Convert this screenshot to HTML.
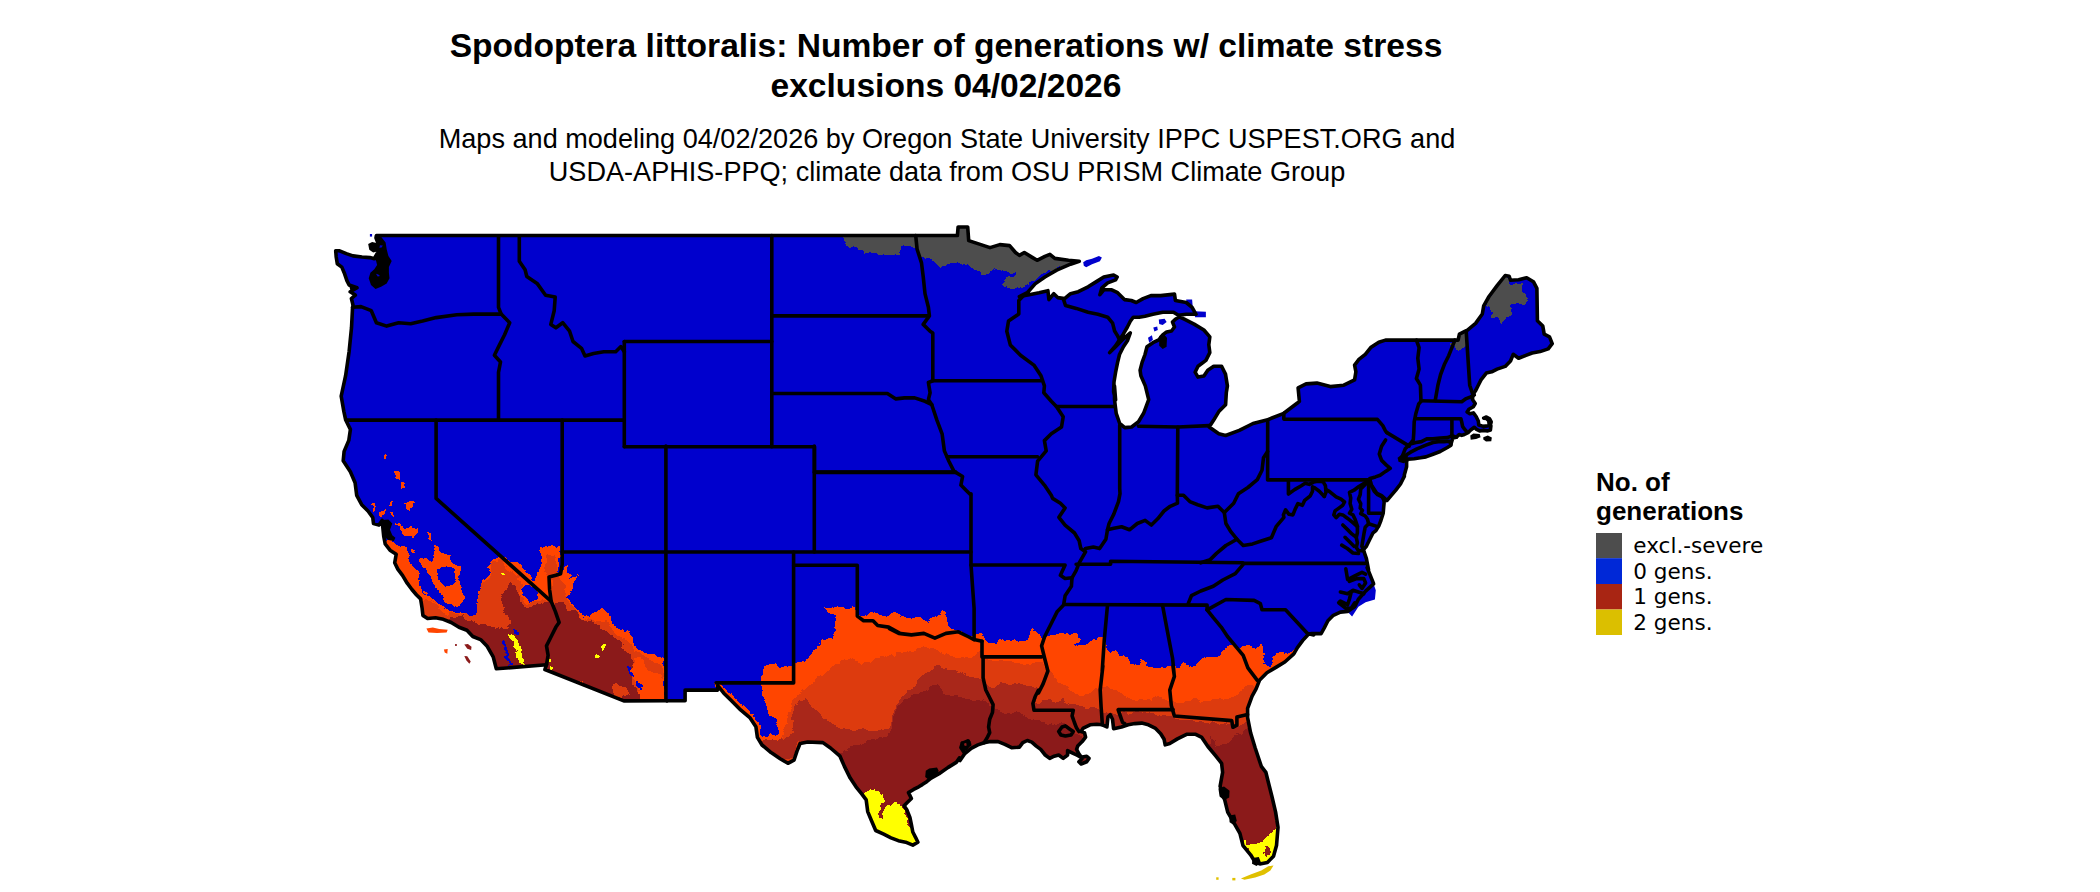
<!DOCTYPE html>
<html><head><meta charset="utf-8"><title>Spodoptera littoralis</title>
<style>html,body{margin:0;padding:0;background:#fff}svg{display:block}text{font-family:"Liberation Sans",sans-serif;fill:#000}.lg text{font-family:"DejaVu Sans","Liberation Sans",sans-serif;font-size:21.55px}</style></head><body>
<svg width="2100" height="892" viewBox="0 0 2100 892">
<rect width="2100" height="892" fill="#fff"/>
<defs><clipPath id="us"><path d="M376.4,235.5 L957.4,235.5 L958.1,227 L967.7,227 L968.7,240.6 L990,247.6 L999.8,244.6 L1009.6,245.6 L1015.5,252.5 L1019.4,255.4 L1024.3,252.5 L1032.2,257.4 L1037.1,260.3 L1044.9,256.4 L1049.9,254.4 L1054.8,258.4 L1068.5,260.3 L1079.3,261.3 L1070.5,264.2 L1056.7,270.1 L1044.9,277 L1035.1,283.9 L1027.3,292.7 L1019.4,296.6 L1029.2,294.7 L1039.1,292.7 L1047.9,290.7 L1048.9,299.6 L1053.8,293.7 L1057.7,297.6 L1064.6,298.6 L1070.5,293.7 L1078.3,291.7 L1088.1,286.8 L1096,281.9 L1103.8,277 L1113.6,275 L1117.2,277 L1115.6,279.9 L1107.7,282.9 L1101.9,287.8 L1099.9,294.7 L1103.8,289.8 L1111.7,289.8 L1117.6,292.7 L1124.4,299.6 L1131.3,300.5 L1136.2,302.5 L1143.1,298.6 L1150.9,295.6 L1160.7,295.6 L1174.5,294.1 L1175.4,300.5 L1186.2,302.5 L1192.1,307.4 L1196,314.3 L1186.2,314.3 L1178.4,315.3 L1173.5,312.3 L1162.7,312.3 L1152.9,314.3 L1145,316.2 L1139.1,317.2 L1133.2,317.2 L1130.3,321.2 L1127.4,327 L1123.4,333.9 L1119.5,339.8 L1115.6,345.7 L1109.7,352.6 L1115.6,346.7 L1123.4,338.8 L1130.3,332.9 L1127.4,340.8 L1123.4,346.7 L1119.5,354.5 L1117.6,362.4 L1115.6,372.2 L1114,382 L1113.6,391.8 L1115.6,400 L1114.5,385.9 L1114.5,399.6 L1116.2,413.3 L1119.7,423.5 L1124.8,427.6 L1131.6,427 L1138.5,421.8 L1143.6,413.3 L1148.7,399.6 L1145.3,385.9 L1140.9,375.7 L1140.1,370.2 L1142.1,362.4 L1145,354.5 L1147,346.7 L1152.9,342.7 L1158.8,339.8 L1162.7,334.9 L1166.6,331.9 L1171.5,331 L1174.5,327 L1172.5,322.1 L1175.4,319.2 L1179.4,316.8 L1184.3,319.2 L1194.1,324.1 L1203.9,330 L1209.8,336.9 L1208.8,344.7 L1209.8,352.6 L1205.9,360.4 L1198,366.3 L1195.1,372.2 L1198,377.1 L1203.9,376.1 L1207.8,370.2 L1213.7,366.3 L1221.6,366.3 L1225.5,374.1 L1227.4,385.9 L1226.3,392.8 L1225.6,404.7 L1218.8,411.6 L1213.7,420.1 L1209.2,427 L1218.8,433.8 L1225.6,435.5 L1239.3,430.4 L1253,423.5 L1266.7,420.1 L1283.8,413.3 L1297.4,403 L1299.4,401.4 L1298.1,387.9 L1306.1,383.9 L1316.9,383.1 L1330.3,386.6 L1343.8,385.2 L1354.6,379.9 L1355.9,371.8 L1354.6,365.1 L1358.6,359.7 L1365.3,354.3 L1370.7,347.6 L1378.8,342.2 L1385.5,340.1 L1458.1,340.1 L1459.4,334.1 L1464.8,331.4 L1467.5,330.1 L1475.6,323.4 L1482.3,314 L1483.7,305.9 L1489,296.5 L1497.1,285.7 L1505.2,275.5 L1509.2,276.3 L1510.5,280.3 L1518.6,279.8 L1526.7,277.7 L1533.4,281.7 L1536.9,288.4 L1537.4,320.7 L1542.8,326.1 L1544.2,334.1 L1549.5,336.8 L1552.2,343.6 L1548.2,348.9 L1540.1,351.6 L1532.1,353 L1525.3,355.7 L1518.6,358.3 L1513.2,354.3 L1510.5,361 L1505.2,366.4 L1497.1,369.1 L1491.7,371.8 L1486.3,373.1 L1481,379.9 L1478.3,385.2 L1475.6,390.6 L1472.9,394.7 L1472.5,399.5 L1475.2,403.5 L1473.4,406.7 L1468.9,409.3 L1467.1,412 L1469.8,413.8 L1473.4,412.9 L1476.1,416.5 L1478.3,421 L1478.8,425 L1483.3,426.4 L1487.8,425.9 L1490.4,425 L1491.2,421.9 L1489.6,418.8 L1486.4,417 L1483.7,418.1 L1486.4,418.5 L1488.7,420.6 L1489.1,423.7 L1490.9,425.9 L1490.4,430 L1487.8,430.9 L1483.3,430.4 L1479.7,430.9 L1476.1,429.1 L1474.3,427.3 L1470.7,430 L1468,432.7 L1464.4,434.5 L1461.7,435.4 L1459.1,434.5 L1456.4,437.2 L1452.8,437.9 L1451,443.9 L1451,445.2 L1447.4,447.5 L1440.2,451.5 L1433,454.2 L1425.9,456.9 L1420.5,457.8 L1414.2,458.7 L1407.9,459.1 L1406.6,461.4 L1406.6,466.7 L1404.3,475 L1404.4,476.1 L1400.5,484 L1395.8,490.2 L1391.1,495.7 L1387.1,500.4 L1384.3,500.8 L1383.7,507 L1383.2,513.2 L1380.9,520.5 L1378.7,526.1 L1375.9,530.6 L1373.1,532.8 L1369.7,539.5 L1366.4,546.3 L1363.5,549.6 L1364.1,551.9 L1366.4,558.6 L1368.6,570 L1367.1,567.5 L1373.4,583.2 L1373.6,583.9 L1365.6,591.1 L1358.4,599.2 L1354.8,606.4 L1347.6,611.4 L1340.4,612.1 L1333.3,615.3 L1327.9,620.7 L1324.3,627.9 L1321.1,633.6 L1311.7,633.6 L1308.2,634.5 L1302.8,640.4 L1297.4,647.6 L1293.8,653.9 L1284.8,662 L1275.9,667.4 L1266.9,672.7 L1259.7,679.9 L1256.1,688.9 L1252.1,696.2 L1247.6,708.4 L1247.6,717.6 L1250.6,732.8 L1255.2,748 L1261.3,766.3 L1265.9,772.4 L1267.4,778.5 L1272,796.8 L1275.6,812.1 L1278,827.3 L1276.5,845.6 L1273.5,856.3 L1267.4,862.4 L1259.8,863.9 L1255.2,862.4 L1250.6,854.8 L1243,845.6 L1239.9,833.4 L1233.8,822.7 L1227.7,812.1 L1224.7,799.9 L1220.1,786.2 L1222.6,772.4 L1221.6,763.3 L1215.5,755.7 L1207.9,746.5 L1201.8,737.4 L1195.7,734.3 L1186.6,734.3 L1177.4,738.9 L1169.8,743.5 L1165.2,744.9 L1164.1,739.3 L1160.7,733.7 L1155.1,728.1 L1148.4,724.8 L1141.7,723.1 L1134.9,723.6 L1128.2,724.8 L1121.5,727 L1113.6,728.7 L1112.5,719.2 L1110.3,714.7 L1108,716.9 L1106.9,727 L1102.4,724.8 L1096.8,724.2 L1090.1,724.8 L1083.3,728.1 L1081.1,731.5 L1084.5,732.6 L1085.6,737.1 L1082.2,741.6 L1077.7,746.1 L1076.6,749.4 L1078.9,753.9 L1082.2,758.4 L1078.9,761.8 L1081.1,764 L1086.7,761.8 L1089,758.4 L1086.7,756.2 L1081.1,757.3 L1076.6,755 L1072.1,752.8 L1067.6,750.6 L1067.6,755 L1063.2,758.4 L1058.7,755 L1054.2,756.2 L1049.7,758.4 L1045.2,755 L1040.7,749.4 L1036.3,746.1 L1031.8,742.1 L1027.3,740.5 L1022.8,742.7 L1019.4,747.2 L1011.6,747.7 L1004.9,744.4 L998.1,741.6 L990.3,741.6 L984.1,742.7 L977.9,744.9 L971.2,748.3 L964.5,753.9 L960,760.6 L959.5,757.7 L956.6,762.1 L947.8,767.6 L939.1,773.7 L931.1,778.1 L926.7,781.7 L922.3,784.6 L918.7,786.8 L913.6,789.4 L908.5,792.6 L911.4,798.5 L907,802.8 L904.1,805.8 L907,810.1 L909.9,817.4 L911.4,824.7 L912.8,832 L915.8,837.8 L917.9,842.2 L912.8,845.1 L905.6,842.2 L898.3,840.7 L891,837.8 L883.7,834.2 L875.7,830.5 L871.3,820.3 L867.7,811.6 L866.2,799.9 L861.9,794.1 L856,786.8 L850.2,778.1 L844.4,766.4 L840,756.2 L830.5,748 L822.9,742.6 L807.7,742 L800.1,743.5 L797,751.1 L794,760.2 L787.9,763.3 L780.2,758.7 L771.1,752.6 L762,745 L757.4,737.4 L755.9,726.7 L749.8,717.6 L740.6,709.9 L731.5,700.8 L723.8,693.2 L717.7,685.5 L717.7,690.1 L685.1,690.1 L685.1,700.8 L666.8,700.8 L623.8,700.9 L544.9,669.5 L546.5,664.7 L496.3,668.8 L493.2,656.9 L486.9,645.9 L480.6,639.6 L472.8,636.5 L466.9,630.3 L459,627.2 L451.2,622.5 L443.3,619.3 L435.5,617.8 L427.6,618.5 L422.9,615.4 L422.1,608.3 L420.6,598.9 L416.6,595 L411.9,589.5 L407.2,583.2 L402.5,575.4 L397.8,569.1 L394.7,562.8 L396.2,554.2 L390,550.2 L385.2,544 L383.7,536.1 L382.1,520.4 L379,525.1 L373.5,523.6 L372.7,517.3 L368,511 L361.7,504.7 L356.7,495.3 L355.1,482.8 L350.4,471.8 L343.2,460.8 L344.1,451.4 L348.8,440.4 L350.4,429.4 L345.7,420 L343.9,411.6 L341.2,396.2 L345.6,375.7 L349.1,351.8 L351.5,327.8 L352.5,308.6 L353,305.2 L351.4,298.5 L355.3,295.1 L350.2,291.8 L357,287.8 L349.1,285 L346.9,280.6 L344.6,273.8 L341.8,267.1 L337.3,263.7 L336.2,257 L335.7,250.8 L339.6,250.8 L346.3,253.6 L353,255.9 L362,257 L369.9,257.6 L374.3,258.7 L377.7,252.5 L378.8,248 L377.7,242.4 L376,237.9Z"/></clipPath></defs>
<path d="M376.4,235.5 L957.4,235.5 L958.1,227 L967.7,227 L968.7,240.6 L990,247.6 L999.8,244.6 L1009.6,245.6 L1015.5,252.5 L1019.4,255.4 L1024.3,252.5 L1032.2,257.4 L1037.1,260.3 L1044.9,256.4 L1049.9,254.4 L1054.8,258.4 L1068.5,260.3 L1079.3,261.3 L1070.5,264.2 L1056.7,270.1 L1044.9,277 L1035.1,283.9 L1027.3,292.7 L1019.4,296.6 L1029.2,294.7 L1039.1,292.7 L1047.9,290.7 L1048.9,299.6 L1053.8,293.7 L1057.7,297.6 L1064.6,298.6 L1070.5,293.7 L1078.3,291.7 L1088.1,286.8 L1096,281.9 L1103.8,277 L1113.6,275 L1117.2,277 L1115.6,279.9 L1107.7,282.9 L1101.9,287.8 L1099.9,294.7 L1103.8,289.8 L1111.7,289.8 L1117.6,292.7 L1124.4,299.6 L1131.3,300.5 L1136.2,302.5 L1143.1,298.6 L1150.9,295.6 L1160.7,295.6 L1174.5,294.1 L1175.4,300.5 L1186.2,302.5 L1192.1,307.4 L1196,314.3 L1186.2,314.3 L1178.4,315.3 L1173.5,312.3 L1162.7,312.3 L1152.9,314.3 L1145,316.2 L1139.1,317.2 L1133.2,317.2 L1130.3,321.2 L1127.4,327 L1123.4,333.9 L1119.5,339.8 L1115.6,345.7 L1109.7,352.6 L1115.6,346.7 L1123.4,338.8 L1130.3,332.9 L1127.4,340.8 L1123.4,346.7 L1119.5,354.5 L1117.6,362.4 L1115.6,372.2 L1114,382 L1113.6,391.8 L1115.6,400 L1114.5,385.9 L1114.5,399.6 L1116.2,413.3 L1119.7,423.5 L1124.8,427.6 L1131.6,427 L1138.5,421.8 L1143.6,413.3 L1148.7,399.6 L1145.3,385.9 L1140.9,375.7 L1140.1,370.2 L1142.1,362.4 L1145,354.5 L1147,346.7 L1152.9,342.7 L1158.8,339.8 L1162.7,334.9 L1166.6,331.9 L1171.5,331 L1174.5,327 L1172.5,322.1 L1175.4,319.2 L1179.4,316.8 L1184.3,319.2 L1194.1,324.1 L1203.9,330 L1209.8,336.9 L1208.8,344.7 L1209.8,352.6 L1205.9,360.4 L1198,366.3 L1195.1,372.2 L1198,377.1 L1203.9,376.1 L1207.8,370.2 L1213.7,366.3 L1221.6,366.3 L1225.5,374.1 L1227.4,385.9 L1226.3,392.8 L1225.6,404.7 L1218.8,411.6 L1213.7,420.1 L1209.2,427 L1218.8,433.8 L1225.6,435.5 L1239.3,430.4 L1253,423.5 L1266.7,420.1 L1283.8,413.3 L1297.4,403 L1299.4,401.4 L1298.1,387.9 L1306.1,383.9 L1316.9,383.1 L1330.3,386.6 L1343.8,385.2 L1354.6,379.9 L1355.9,371.8 L1354.6,365.1 L1358.6,359.7 L1365.3,354.3 L1370.7,347.6 L1378.8,342.2 L1385.5,340.1 L1458.1,340.1 L1459.4,334.1 L1464.8,331.4 L1467.5,330.1 L1475.6,323.4 L1482.3,314 L1483.7,305.9 L1489,296.5 L1497.1,285.7 L1505.2,275.5 L1509.2,276.3 L1510.5,280.3 L1518.6,279.8 L1526.7,277.7 L1533.4,281.7 L1536.9,288.4 L1537.4,320.7 L1542.8,326.1 L1544.2,334.1 L1549.5,336.8 L1552.2,343.6 L1548.2,348.9 L1540.1,351.6 L1532.1,353 L1525.3,355.7 L1518.6,358.3 L1513.2,354.3 L1510.5,361 L1505.2,366.4 L1497.1,369.1 L1491.7,371.8 L1486.3,373.1 L1481,379.9 L1478.3,385.2 L1475.6,390.6 L1472.9,394.7 L1472.5,399.5 L1475.2,403.5 L1473.4,406.7 L1468.9,409.3 L1467.1,412 L1469.8,413.8 L1473.4,412.9 L1476.1,416.5 L1478.3,421 L1478.8,425 L1483.3,426.4 L1487.8,425.9 L1490.4,425 L1491.2,421.9 L1489.6,418.8 L1486.4,417 L1483.7,418.1 L1486.4,418.5 L1488.7,420.6 L1489.1,423.7 L1490.9,425.9 L1490.4,430 L1487.8,430.9 L1483.3,430.4 L1479.7,430.9 L1476.1,429.1 L1474.3,427.3 L1470.7,430 L1468,432.7 L1464.4,434.5 L1461.7,435.4 L1459.1,434.5 L1456.4,437.2 L1452.8,437.9 L1451,443.9 L1451,445.2 L1447.4,447.5 L1440.2,451.5 L1433,454.2 L1425.9,456.9 L1420.5,457.8 L1414.2,458.7 L1407.9,459.1 L1406.6,461.4 L1406.6,466.7 L1404.3,475 L1404.4,476.1 L1400.5,484 L1395.8,490.2 L1391.1,495.7 L1387.1,500.4 L1384.3,500.8 L1383.7,507 L1383.2,513.2 L1380.9,520.5 L1378.7,526.1 L1375.9,530.6 L1373.1,532.8 L1369.7,539.5 L1366.4,546.3 L1363.5,549.6 L1364.1,551.9 L1366.4,558.6 L1368.6,570 L1367.1,567.5 L1373.4,583.2 L1373.6,583.9 L1365.6,591.1 L1358.4,599.2 L1354.8,606.4 L1347.6,611.4 L1340.4,612.1 L1333.3,615.3 L1327.9,620.7 L1324.3,627.9 L1321.1,633.6 L1311.7,633.6 L1308.2,634.5 L1302.8,640.4 L1297.4,647.6 L1293.8,653.9 L1284.8,662 L1275.9,667.4 L1266.9,672.7 L1259.7,679.9 L1256.1,688.9 L1252.1,696.2 L1247.6,708.4 L1247.6,717.6 L1250.6,732.8 L1255.2,748 L1261.3,766.3 L1265.9,772.4 L1267.4,778.5 L1272,796.8 L1275.6,812.1 L1278,827.3 L1276.5,845.6 L1273.5,856.3 L1267.4,862.4 L1259.8,863.9 L1255.2,862.4 L1250.6,854.8 L1243,845.6 L1239.9,833.4 L1233.8,822.7 L1227.7,812.1 L1224.7,799.9 L1220.1,786.2 L1222.6,772.4 L1221.6,763.3 L1215.5,755.7 L1207.9,746.5 L1201.8,737.4 L1195.7,734.3 L1186.6,734.3 L1177.4,738.9 L1169.8,743.5 L1165.2,744.9 L1164.1,739.3 L1160.7,733.7 L1155.1,728.1 L1148.4,724.8 L1141.7,723.1 L1134.9,723.6 L1128.2,724.8 L1121.5,727 L1113.6,728.7 L1112.5,719.2 L1110.3,714.7 L1108,716.9 L1106.9,727 L1102.4,724.8 L1096.8,724.2 L1090.1,724.8 L1083.3,728.1 L1081.1,731.5 L1084.5,732.6 L1085.6,737.1 L1082.2,741.6 L1077.7,746.1 L1076.6,749.4 L1078.9,753.9 L1082.2,758.4 L1078.9,761.8 L1081.1,764 L1086.7,761.8 L1089,758.4 L1086.7,756.2 L1081.1,757.3 L1076.6,755 L1072.1,752.8 L1067.6,750.6 L1067.6,755 L1063.2,758.4 L1058.7,755 L1054.2,756.2 L1049.7,758.4 L1045.2,755 L1040.7,749.4 L1036.3,746.1 L1031.8,742.1 L1027.3,740.5 L1022.8,742.7 L1019.4,747.2 L1011.6,747.7 L1004.9,744.4 L998.1,741.6 L990.3,741.6 L984.1,742.7 L977.9,744.9 L971.2,748.3 L964.5,753.9 L960,760.6 L959.5,757.7 L956.6,762.1 L947.8,767.6 L939.1,773.7 L931.1,778.1 L926.7,781.7 L922.3,784.6 L918.7,786.8 L913.6,789.4 L908.5,792.6 L911.4,798.5 L907,802.8 L904.1,805.8 L907,810.1 L909.9,817.4 L911.4,824.7 L912.8,832 L915.8,837.8 L917.9,842.2 L912.8,845.1 L905.6,842.2 L898.3,840.7 L891,837.8 L883.7,834.2 L875.7,830.5 L871.3,820.3 L867.7,811.6 L866.2,799.9 L861.9,794.1 L856,786.8 L850.2,778.1 L844.4,766.4 L840,756.2 L830.5,748 L822.9,742.6 L807.7,742 L800.1,743.5 L797,751.1 L794,760.2 L787.9,763.3 L780.2,758.7 L771.1,752.6 L762,745 L757.4,737.4 L755.9,726.7 L749.8,717.6 L740.6,709.9 L731.5,700.8 L723.8,693.2 L717.7,685.5 L717.7,690.1 L685.1,690.1 L685.1,700.8 L666.8,700.8 L623.8,700.9 L544.9,669.5 L546.5,664.7 L496.3,668.8 L493.2,656.9 L486.9,645.9 L480.6,639.6 L472.8,636.5 L466.9,630.3 L459,627.2 L451.2,622.5 L443.3,619.3 L435.5,617.8 L427.6,618.5 L422.9,615.4 L422.1,608.3 L420.6,598.9 L416.6,595 L411.9,589.5 L407.2,583.2 L402.5,575.4 L397.8,569.1 L394.7,562.8 L396.2,554.2 L390,550.2 L385.2,544 L383.7,536.1 L382.1,520.4 L379,525.1 L373.5,523.6 L372.7,517.3 L368,511 L361.7,504.7 L356.7,495.3 L355.1,482.8 L350.4,471.8 L343.2,460.8 L344.1,451.4 L348.8,440.4 L350.4,429.4 L345.7,420 L343.9,411.6 L341.2,396.2 L345.6,375.7 L349.1,351.8 L351.5,327.8 L352.5,308.6 L353,305.2 L351.4,298.5 L355.3,295.1 L350.2,291.8 L357,287.8 L349.1,285 L346.9,280.6 L344.6,273.8 L341.8,267.1 L337.3,263.7 L336.2,257 L335.7,250.8 L339.6,250.8 L346.3,253.6 L353,255.9 L362,257 L369.9,257.6 L374.3,258.7 L377.7,252.5 L378.8,248 L377.7,242.4 L376,237.9Z" fill="#0000CD"/>
<filter id="rough" color-interpolation-filters="sRGB" x="0" y="0" width="2100" height="892" filterUnits="userSpaceOnUse"><feTurbulence type="fractalNoise" baseFrequency="0.09" numOctaves="3" seed="7" result="n"/><feDisplacementMap in="SourceGraphic" in2="n" scale="9" xChannelSelector="R" yChannelSelector="G"/></filter>
<g clip-path="url(#us)"><g filter="url(#rough)" shape-rendering="crispEdges">
<path d="M761,738 L764.7,735.5 L779.5,734.3 L777,723.2 L769.6,713.3 L764.9,703.5 L762,694.6 L760.5,689.4 L761,686.2 L762.2,673.9 L764.7,668.9 L779.5,666.5 L784.4,670.2 L793,666.5 L796.7,661.5 L809.1,659.1 L811.5,651.7 L818.9,644.3 L831.3,639.3 L836.2,629.5 L833.7,617.1 L825.1,608.5 L835,607.3 L843.6,608.5 L852.2,607.3 L855.9,608.5 L857.2,614.7 L865.8,614.7 L873.2,613.4 L888,615.9 L897.9,614.7 L907.7,617.1 L917.6,617.1 L927.5,622.1 L934.9,617.1 L944.7,609.7 L947.2,617.1 L949.7,627 L957.1,630.7 L969.4,634.4 L976.8,634.4 L986.7,633.2 L980,632.9 L984.6,635.9 L989.1,642 L995.2,642.8 L999.8,638.2 L1005.9,639.7 L1010.5,639 L1016.6,642.8 L1022.7,641.2 L1027.2,635.9 L1030.3,628.3 L1033.3,627.5 L1037.1,632.9 L1041,639 L1045.5,637.4 L1051.6,636.7 L1059.2,634.4 L1068.4,632.9 L1077.5,634.4 L1080.6,637.4 L1077.5,642 L1073,646.6 L1080.6,644.3 L1088.2,642.8 L1094.3,639 L1100.4,636.7 L1103.4,640.5 L1106.5,648.1 L1111,652.7 L1117.1,651.1 L1120.2,655.7 L1126.3,657.2 L1130.9,658.8 L1133.9,664.9 L1138.5,663.3 L1143,661 L1147.6,664.1 L1153.7,667.9 L1162.9,667.9 L1170.5,667.1 L1178.1,667.9 L1184.2,663.3 L1190.3,666.4 L1196.4,666.4 L1196.4,660.3 L1204,658 L1213.1,655.7 L1219.2,655.7 L1223.8,651.1 L1229.9,646.6 L1233.7,644.3 L1239,648.1 L1245.1,646.6 L1252.8,648.1 L1258.9,646.6 L1261.9,645 L1263.4,652.7 L1266.5,658.8 L1265,663.3 L1269.5,666.4 L1272.6,660.3 L1271,655.7 L1277.1,654.2 L1281.7,649.6 L1284.8,654.2 L1290.9,652.7 L1295.4,648.9 L1300,648.9 L1400,900 L763,900 L763,745Z" fill="#FF4500"/>
<path d="M716.2,682.5 L722.3,684.6 L728.4,692.6 L737,699.9 L746.1,708.4 L755.2,717 L761.3,726.7 L762.9,737.4 L768,742 L762,748 L752.8,729.8 L740.6,714.5 L728.4,702.3 L716.2,691.6Z" fill="#FF4500"/>
<path d="M762,665.7 L774.1,665.1 L783.3,667.3 L792.4,665.7 L792.4,683.4 L762,683.4Z" fill="#FF4500"/>
<path d="M783.2,738 L786.9,723.2 L790.6,708.4 L793,698.5 L799.2,692.4 L806.6,687.4 L814,682.5 L821.4,676.3 L831.3,666.5 L843.6,661.5 L853.5,659.1 L870.7,664 L878.1,659.1 L892.9,654.1 L907.7,651.7 L922.5,648 L937.3,651.7 L949.7,656.6 L969.4,656.6 L980.5,651.7 L983,658.8 L995.2,661.8 L1010.5,663.3 L1025.7,663.3 L1041,660.3 L1047,671 L1053.1,677 L1059.2,681.6 L1065.3,684.7 L1071.4,692.3 L1080.6,695.3 L1089.7,693.8 L1098.9,687.7 L1105,686.2 L1114.1,690.8 L1123.2,695.3 L1132.4,699.9 L1147.6,699.9 L1159.8,696.9 L1169,701.4 L1178.1,703 L1193.3,699.9 L1208.6,701.4 L1223.8,698.4 L1239,695.3 L1245.1,686.2 L1244.5,685.5 L1253.7,685.5 L1400,900 L700,900 L760,790Z" fill="#DD3B0E"/>
<path d="M801.7,744.2 L793,728.1 L791.8,708.4 L804.1,698.5 L814,708.4 L823.9,718.3 L833.7,724.4 L843.6,728.1 L858.4,730.6 L873.2,729.4 L888,728.1 L892.9,718.3 L897.9,701 L912.7,688.7 L922.5,673.9 L937.3,666.5 L949.7,668.9 L962,673.9 L976.8,678.8 L984.6,681.6 L995.2,686.2 L1001.3,683.1 L1010.5,684.7 L1019.6,683.1 L1031.8,686.2 L1037.9,690.8 L1036.4,701.4 L1047,699.9 L1056.2,701.4 L1065.3,699.9 L1071.4,703 L1083.6,707.5 L1095.8,707.5 L1102.9,711.5 L1115.1,711.5 L1133.4,711.5 L1151.7,714.5 L1173,717.6 L1194.4,720.6 L1204.9,722.1 L1220.1,723.7 L1232.3,725.2 L1250.6,723.7 L1400,900 L700,900 L780,800Z" fill="#A9271A"/>
<path d="M762.8,740.7 L769.5,738.5 L778.5,740.7 L785.2,737.4 L795.3,732.9 L800.9,738.5 L798.7,743 L796.4,749.7 L792,758.7 L778.5,759.8 L767.3,750.8 L760.6,744.1Z" fill="#A9271A"/>
<path d="M838.7,752.8 L851,747.9 L868.3,740.5 L888,738 L892.9,723.2 L897.9,705.9 L907.7,698.5 L917.6,693.6 L927.5,688.7 L937.3,686.2 L944.7,693.6 L957.1,696.1 L969.4,698.5 L981.7,701 L990.1,708.4 L1005.4,711.5 L1020.6,714.5 L1035.9,720.6 L1051.1,723.7 L1063.3,723.7 L1072.4,729.8 L1078.5,735.9 L1084.6,748 L1090.7,763.3 L1102.9,763.3 L1133.4,763.3 L1163.9,751.1 L1179.1,745 L1194.4,742 L1209.6,745 L1211,734.3 L1215.5,748 L1226.2,742 L1238.4,734.3 L1247.6,729.8 L1253.7,731.3 L1400,900 L700,900 L820,820Z" fill="#8B1A1A"/>
<path d="M863.3,792.6 L869.1,789 L877.9,789.7 L883.7,792.6 L886.6,791.9 L883.7,798.5 L879.3,802.8 L880.1,817.4 L883,818.9 L883.7,808.7 L889.5,805.8 L893.9,802.1 L899.7,802.8 L904.1,808.7 L907,820.3 L911.4,830.5 L915.8,832 L918.7,843.6 L912.8,846.6 L904.1,843.6 L895.4,840.7 L883.7,835.6 L875,832 L870.6,820.3 L867,811.6 L865.5,799.9Z" fill="#FFFF00"/>
<path d="M1275.6,819.7 L1272,833.4 L1264.3,839.5 L1255.2,844.1 L1243,842 L1250.6,853.2 L1255.2,863.9 L1268.9,863.9 L1275,854.8 L1278,844.1 L1279.6,827.3Z" fill="#FFFF00"/>
<path d="M1264.3,847.1 L1268.3,847.1 L1267.4,856.3 L1263.4,854.8Z" fill="#8B1A1A"/>
<path d="M839.5,233.8 L848,245.8 L865.1,251.9 L882.2,254.3 L899.3,255.3 L902.7,244.1 L909.6,247.5 L915.7,249.2 L919.8,256 L933.5,261.2 L943.8,266.3 L957.4,261.2 L967.7,266.3 L981.4,273.1 L995,271.4 L1001.9,274.8 L1005.3,286.8 L1015.6,288.5 L1003.7,283.9 L1007.7,288.8 L1019.4,287.8 L1031.2,283.9 L1041,274.1 L1054.8,269.2 L1080.3,261.3 L1080.3,244.6 L990,236.8 L957.4,221.8 L839.5,221.8Z" fill="#4D4D4D"/>
<path d="M990,271.1 L999.8,272.1 L1007.7,274.1 L1015.5,273.1 L1014.5,276 L1008.6,277 L1004.7,281.9 L1001.8,283.9 L995.9,276 L990,274.1Z" fill="#0000CD"/>
<path d="M1505.2,275 L1509.2,283 L1518.6,284.4 L1524,283 L1521.3,291.1 L1528,299.2 L1524,303.2 L1515.9,303.2 L1510.5,304.6 L1513.2,314 L1505.2,318 L1502.5,323.4 L1497.1,318 L1491.7,316.7 L1490.4,309.9 L1486.3,307.2 L1489,296.5 L1497.1,285.7Z" fill="#4D4D4D"/>
<path d="M1451.4,343.6 L1459.4,332.8 L1466.2,331.4 L1466.2,347.6 L1462.1,349.7 L1456.8,347.6Z" fill="#4D4D4D"/>
<path d="M420.6,558.1 L426.1,556.5 L432.3,562.8 L433.9,553.4 L435.5,545.5 L438.6,547.1 L443.3,553.4 L451.2,555 L454.3,562.8 L460.6,564.4 L460.6,573.8 L459,581.6 L462.2,591.1 L464.5,597.3 L460.6,603.6 L452.8,605.2 L444.9,602.1 L440.2,594.2 L435.5,587.9 L433.9,581.6 L427.6,575.4 L422.9,567.5 L419.8,561.2Z" fill="#FF4500"/>
<path d="M435.5,569.1 L441.8,566.7 L448,567.5 L454.3,572.2 L455.1,578.5 L451.2,583.2 L444.9,584.8 L440.2,580.1 L437.1,575.4Z" fill="#0000CD"/>
<path d="M392.3,525.1 L397.8,523.6 L404.1,528.3 L408.8,525.1 L415.1,527.5 L416.6,533.8 L411.9,539.3 L407.2,535.3 L402.5,531.4 L396.2,527.5Z" fill="#FF4500"/>
<path d="M387.6,539.3 L394.7,540.8 L397.8,547.1 L404.1,548.7 L408.8,555 L407.2,559.7 L411.9,565.9 L416.6,573.8 L419.8,584.8 L422.9,592.6 L429.2,597.3 L435.5,600.5 L440.2,608.3 L437.1,609.9 L432.3,616.2 L427.6,619.3 L421.4,616.2 L419.8,600.5 L415.1,594.2 L405.7,581.6 L397,567.5 L394.7,562 L396.2,554.2 L389.2,550.2 L385.2,543.2Z" fill="#FF4500"/>
<path d="M423.7,599.7 L429.2,598.9 L435.5,602.1 L439.4,608.3 L436.3,610.7 L432.3,617 L427.6,619.3 L421.4,617 L420.6,603.6Z" fill="#DD3B0E"/>
<path d="M370.3,504.7 L374.3,505.3 L374.3,511 L371,511Z" fill="#FF4500"/>
<path d="M388.4,501.6 L391.5,502.2 L391.5,506.3 L389,506.3Z" fill="#FF4500"/>
<path d="M406.4,501.6 L412.7,502.2 L412.7,510.2 L407.1,510.2Z" fill="#FF4500"/>
<path d="M392.3,512.6 L395.4,513.2 L395.4,517.3 L392.9,517.3Z" fill="#FF4500"/>
<path d="M380.5,509.4 L385.2,510 L385.2,514.1 L381.2,514.1Z" fill="#FF4500"/>
<path d="M428.4,533.8 L430.8,534.4 L430.8,540 L429,540Z" fill="#FF4500"/>
<path d="M411.9,548.7 L417.4,549.3 L417.4,552.6 L412.6,552.6Z" fill="#FF4500"/>
<path d="M423.7,589.5 L426.9,590.1 L426.9,592.6 L424.3,592.6Z" fill="#FF4500"/>
<path d="M420,592.4 L428.5,598.8 L439.2,605.2 L451.9,613.7 L464.7,614.8 L475.4,605.2 L479.6,590.3 L483.9,579.6 L490.3,573.2 L488.1,566.8 L494.5,558.3 L503,556.2 L511.6,562.6 L520.1,562.6 L526.5,573.2 L535,581.8 L539.3,571.1 L541.4,549.8 L549.9,545.6 L558.4,547.7 L559.5,575.4 L566.9,564.7 L569.1,579.6 L577.6,575.4 L573.3,586 L566.9,598.8 L573.3,605.2 L581.8,613.7 L590.4,618 L601,607.3 L609.5,611.6 L611.7,622.2 L620.2,630.7 L632.9,637.1 L635.1,645.6 L645.7,652 L662.8,656.3 L663.8,681.8 L664.9,701 L624.4,703.1 L545.6,673.3 L494.5,671.2 L420,618Z" fill="#FF4500"/>
<path d="M522.2,588.1 L530.7,583.9 L536.1,590.3 L539.3,598.8 L530.7,603 L524.3,596.7Z" fill="#0000CD"/>
<path d="M556.3,586 L560.5,588.1 L561.6,596.7 L557.4,595.6Z" fill="#0000CD"/>
<path d="M477.5,600.9 L481.8,583.9 L490.3,577.5 L492.4,562.6 L500.9,560.5 L509.4,569 L518,575.4 L522.2,583.9 L520.1,594.5 L526.5,605.2 L539.3,600.9 L547.8,599.9 L552,583.9 L547.8,575.4 L543.5,562.6 L547.8,554.1 L556.3,556.2 L558.4,575.4 L564.8,583.9 L566.9,600.9 L581.8,615.8 L594.6,622.2 L605.3,620.1 L611.7,630.7 L624.4,639.3 L632.9,647.8 L643.6,656.3 L660.6,664.8 L662.8,681.8 L624.4,701 L545.6,672.3 L494.5,670.1 L420,615.8 L420,598.8 L432.8,603 L445.6,613.7 L462.6,615.8Z" fill="#DD3B0E"/>
<path d="M463.7,605.2 L475.4,604.1 L477.5,611.6 L471.1,614.8 L463.7,613.7 L454.1,610.5 L445.6,606.2 L454.1,605.2Z" fill="#0000CD"/>
<path d="M445.6,620.1 L451.9,618.4 L460.5,616.9 L475.4,624.3 L492.4,626.5 L505.2,630.7 L511.6,622.2 L505.2,611.6 L500.9,600.9 L505.2,590.3 L511.6,583.9 L518,592.4 L522.2,605.2 L530.7,609.4 L539.3,604.1 L547.8,600.5 L552,605.2 L560.5,603 L566.9,609.4 L577.6,612 L586.1,620.1 L596.7,624.8 L607.4,631.2 L620.2,641.8 L628.7,652.5 L632.9,666.9 L630.8,681.8 L637.2,690.4 L641.5,701 L624.4,702.1 L545.6,672.3 L494.5,670.1 L462.6,639.3Z" fill="#8B1A1A"/>
<path d="M611.7,686.1 L618,681.8 L624.4,688.2 L628.7,696.7 L620.2,698.9 L613.8,694.6Z" fill="#DD3B0E"/>
<path d="M632.9,656.3 L641.5,660.5 L650,669.1 L658.5,673.3 L662.8,681.8 L662.8,698.9 L650,698.9 L639.3,690.4 L632.9,677.6Z" fill="#FF4500"/>
<path d="M628.7,666.9 L632.9,669.1 L635.1,677.6 L630.8,675.5Z" fill="#0000CD"/>
<path d="M637.2,681.8 L641.5,684 L642.5,690.4 L638.3,688.2Z" fill="#0000CD"/>
<path d="M502,639.3 L505.2,642.4 L509.4,656.3 L511.6,664.8 L508.4,664.8 L505.2,652Z" fill="#0000CD"/>
<path d="M513.7,628.6 L518,630.7 L520.1,636.1 L515.8,635Z" fill="#0000CD"/>
<path d="M507.3,632.9 L513.7,635 L520.1,645.6 L522.6,658.4 L523.9,664.8 L518.4,663.1 L515.8,652 L511.6,641.4Z" fill="#FFFF00"/>
<path d="M501.6,570.5 L503.7,570.5 L504.1,575.8 L502,575.8Z" fill="#FFFF00"/>
<path d="M595,654.6 L598.9,654.6 L598.9,658.4 L595,658.4Z" fill="#FFFF00"/>
<path d="M602.1,645.6 L605.7,645.6 L604.2,648.8 L602.1,648.4Z" fill="#FFFF00"/>
<path d="M546.7,658 L550.3,658 L550.3,662.2 L547.3,662.2Z" fill="#FFFF00"/>
<path d="M548.4,666.1 L551.6,666.1 L550.3,669.1 L548.4,669.1Z" fill="#FFFF00"/>
<path d="M384.9,455.1 L388,455.1 L388,459.5 L384.9,459.5Z" fill="#FF4500"/>
<path d="M395.3,471.8 L399.7,471.8 L399.7,481.2 L395.3,481.2Z" fill="#FF4500"/>
<path d="M401.5,481.2 L404.7,481.2 L404.7,486.8 L401.5,486.8Z" fill="#FF4500"/>
</g></g>
<path d="M426.4,628.6 L432.8,627.5 L439.2,629 L447.7,629.7 L446.6,632.4 L437,632.9 L428.5,632.4Z" fill="#FF4500"/>
<path d="M464.3,644.6 L467.9,643.9 L471.5,646.7 L471.1,649.9 L467.3,648.8Z" fill="#8B1A1A"/>
<path d="M464.3,655.9 L467.3,656.3 L470.7,661.6 L469.4,663.7 L466.4,660.5Z" fill="#8B1A1A"/>
<path d="M443.9,649.5 L447.7,649 L447.3,653.7 L444.7,652.5Z" fill="#FF4500"/>
<path d="M455.1,644.1 L456.8,644.1 L456.8,645.9 L455.1,645.9Z" fill="#8B1A1A"/>
<path d="M1083.2,262.3 L1086.2,260.3 L1092,258.8 L1098.9,256 L1101.9,257.4 L1099.9,261.3 L1092,264.2 L1086.2,267.2 L1083.8,265.8Z" fill="#0000CD"/>
<path d="M1158.8,319.6 L1164.6,318.8 L1166.6,322.1 L1162.7,325.1 L1159.2,324.1Z" fill="#0000CD"/>
<path d="M1153.3,327.4 L1157.2,326.6 L1157.8,330 L1154.4,331.4Z" fill="#0000CD"/>
<path d="M1148,337.8 L1151.9,335.3 L1152.9,339.8 L1149.3,342.7Z" fill="#0000CD"/>
<path d="M1186.2,299.6 L1192.1,299.6 L1193.1,311.3 L1187.2,310.4Z" fill="#0000CD"/>
<path d="M1194.1,311.3 L1205.9,311.7 L1205.9,317.2 L1195.1,317.2Z" fill="#0000CD"/>
<path d="M1273.5,865.4 L1270.4,870.6 L1264.3,874.6 L1255.2,877.6 L1244.5,879.8 L1240.9,878.5 L1250.6,874.6 L1261.3,870.6 L1268.3,866.3Z" fill="#E0C000"/>
<path d="M1232.3,877.9 L1235.4,877.9 L1235.4,880.4 L1232.3,880.4Z" fill="#E0C000"/>
<path d="M1216.2,877.3 L1218.6,877.3 L1218.6,879.8 L1216.2,879.8Z" fill="#E0C000"/>
<path d="M1373.6,583.9 L1375.8,590.2 L1374.9,599.6 L1365.6,602.2 L1358.4,606.7 L1352.1,616.6 L1347.6,611.7 L1354.8,606.4 L1358.4,599.2 L1365.6,591.1Z" fill="#0000CD"/>
<g fill="none" stroke="#000" stroke-width="3.6" stroke-linejoin="round" stroke-linecap="round">
<path d="M376.4,235.5 L957.4,235.5 L958.1,227 L967.7,227 L968.7,240.6 L990,247.6 L999.8,244.6 L1009.6,245.6 L1015.5,252.5 L1019.4,255.4 L1024.3,252.5 L1032.2,257.4 L1037.1,260.3 L1044.9,256.4 L1049.9,254.4 L1054.8,258.4 L1068.5,260.3 L1079.3,261.3 L1070.5,264.2 L1056.7,270.1 L1044.9,277 L1035.1,283.9 L1027.3,292.7 L1019.4,296.6 L1029.2,294.7 L1039.1,292.7 L1047.9,290.7 L1048.9,299.6 L1053.8,293.7 L1057.7,297.6 L1064.6,298.6 L1070.5,293.7 L1078.3,291.7 L1088.1,286.8 L1096,281.9 L1103.8,277 L1113.6,275 L1117.2,277 L1115.6,279.9 L1107.7,282.9 L1101.9,287.8 L1099.9,294.7 L1103.8,289.8 L1111.7,289.8 L1117.6,292.7 L1124.4,299.6 L1131.3,300.5 L1136.2,302.5 L1143.1,298.6 L1150.9,295.6 L1160.7,295.6 L1174.5,294.1 L1175.4,300.5 L1186.2,302.5 L1192.1,307.4 L1196,314.3 L1186.2,314.3 L1178.4,315.3 L1173.5,312.3 L1162.7,312.3 L1152.9,314.3 L1145,316.2 L1139.1,317.2 L1133.2,317.2 L1130.3,321.2 L1127.4,327 L1123.4,333.9 L1119.5,339.8 L1115.6,345.7 L1109.7,352.6 L1115.6,346.7 L1123.4,338.8 L1130.3,332.9 L1127.4,340.8 L1123.4,346.7 L1119.5,354.5 L1117.6,362.4 L1115.6,372.2 L1114,382 L1113.6,391.8 L1115.6,400 L1114.5,385.9 L1114.5,399.6 L1116.2,413.3 L1119.7,423.5 L1124.8,427.6 L1131.6,427 L1138.5,421.8 L1143.6,413.3 L1148.7,399.6 L1145.3,385.9 L1140.9,375.7 L1140.1,370.2 L1142.1,362.4 L1145,354.5 L1147,346.7 L1152.9,342.7 L1158.8,339.8 L1162.7,334.9 L1166.6,331.9 L1171.5,331 L1174.5,327 L1172.5,322.1 L1175.4,319.2 L1179.4,316.8 L1184.3,319.2 L1194.1,324.1 L1203.9,330 L1209.8,336.9 L1208.8,344.7 L1209.8,352.6 L1205.9,360.4 L1198,366.3 L1195.1,372.2 L1198,377.1 L1203.9,376.1 L1207.8,370.2 L1213.7,366.3 L1221.6,366.3 L1225.5,374.1 L1227.4,385.9 L1226.3,392.8 L1225.6,404.7 L1218.8,411.6 L1213.7,420.1 L1209.2,427 L1218.8,433.8 L1225.6,435.5 L1239.3,430.4 L1253,423.5 L1266.7,420.1 L1283.8,413.3 L1297.4,403 L1299.4,401.4 L1298.1,387.9 L1306.1,383.9 L1316.9,383.1 L1330.3,386.6 L1343.8,385.2 L1354.6,379.9 L1355.9,371.8 L1354.6,365.1 L1358.6,359.7 L1365.3,354.3 L1370.7,347.6 L1378.8,342.2 L1385.5,340.1 L1458.1,340.1 L1459.4,334.1 L1464.8,331.4 L1467.5,330.1 L1475.6,323.4 L1482.3,314 L1483.7,305.9 L1489,296.5 L1497.1,285.7 L1505.2,275.5 L1509.2,276.3 L1510.5,280.3 L1518.6,279.8 L1526.7,277.7 L1533.4,281.7 L1536.9,288.4 L1537.4,320.7 L1542.8,326.1 L1544.2,334.1 L1549.5,336.8 L1552.2,343.6 L1548.2,348.9 L1540.1,351.6 L1532.1,353 L1525.3,355.7 L1518.6,358.3 L1513.2,354.3 L1510.5,361 L1505.2,366.4 L1497.1,369.1 L1491.7,371.8 L1486.3,373.1 L1481,379.9 L1478.3,385.2 L1475.6,390.6 L1472.9,394.7 L1472.5,399.5 L1475.2,403.5 L1473.4,406.7 L1468.9,409.3 L1467.1,412 L1469.8,413.8 L1473.4,412.9 L1476.1,416.5 L1478.3,421 L1478.8,425 L1483.3,426.4 L1487.8,425.9 L1490.4,425 L1491.2,421.9 L1489.6,418.8 L1486.4,417 L1483.7,418.1 L1486.4,418.5 L1488.7,420.6 L1489.1,423.7 L1490.9,425.9 L1490.4,430 L1487.8,430.9 L1483.3,430.4 L1479.7,430.9 L1476.1,429.1 L1474.3,427.3 L1470.7,430 L1468,432.7 L1464.4,434.5 L1461.7,435.4 L1459.1,434.5 L1456.4,437.2 L1452.8,437.9 L1451,443.9 L1451,445.2 L1447.4,447.5 L1440.2,451.5 L1433,454.2 L1425.9,456.9 L1420.5,457.8 L1414.2,458.7 L1407.9,459.1 L1406.6,461.4 L1406.6,466.7 L1404.3,475 L1404.4,476.1 L1400.5,484 L1395.8,490.2 L1391.1,495.7 L1387.1,500.4 L1384.3,500.8 L1383.7,507 L1383.2,513.2 L1380.9,520.5 L1378.7,526.1 L1375.9,530.6 L1373.1,532.8 L1369.7,539.5 L1366.4,546.3 L1363.5,549.6 L1364.1,551.9 L1366.4,558.6 L1368.6,570 L1367.1,567.5 L1373.4,583.2 L1373.6,583.9 L1365.6,591.1 L1358.4,599.2 L1354.8,606.4 L1347.6,611.4 L1340.4,612.1 L1333.3,615.3 L1327.9,620.7 L1324.3,627.9 L1321.1,633.6 L1311.7,633.6 L1308.2,634.5 L1302.8,640.4 L1297.4,647.6 L1293.8,653.9 L1284.8,662 L1275.9,667.4 L1266.9,672.7 L1259.7,679.9 L1256.1,688.9 L1252.1,696.2 L1247.6,708.4 L1247.6,717.6 L1250.6,732.8 L1255.2,748 L1261.3,766.3 L1265.9,772.4 L1267.4,778.5 L1272,796.8 L1275.6,812.1 L1278,827.3 L1276.5,845.6 L1273.5,856.3 L1267.4,862.4 L1259.8,863.9 L1255.2,862.4 L1250.6,854.8 L1243,845.6 L1239.9,833.4 L1233.8,822.7 L1227.7,812.1 L1224.7,799.9 L1220.1,786.2 L1222.6,772.4 L1221.6,763.3 L1215.5,755.7 L1207.9,746.5 L1201.8,737.4 L1195.7,734.3 L1186.6,734.3 L1177.4,738.9 L1169.8,743.5 L1165.2,744.9 L1164.1,739.3 L1160.7,733.7 L1155.1,728.1 L1148.4,724.8 L1141.7,723.1 L1134.9,723.6 L1128.2,724.8 L1121.5,727 L1113.6,728.7 L1112.5,719.2 L1110.3,714.7 L1108,716.9 L1106.9,727 L1102.4,724.8 L1096.8,724.2 L1090.1,724.8 L1083.3,728.1 L1081.1,731.5 L1084.5,732.6 L1085.6,737.1 L1082.2,741.6 L1077.7,746.1 L1076.6,749.4 L1078.9,753.9 L1082.2,758.4 L1078.9,761.8 L1081.1,764 L1086.7,761.8 L1089,758.4 L1086.7,756.2 L1081.1,757.3 L1076.6,755 L1072.1,752.8 L1067.6,750.6 L1067.6,755 L1063.2,758.4 L1058.7,755 L1054.2,756.2 L1049.7,758.4 L1045.2,755 L1040.7,749.4 L1036.3,746.1 L1031.8,742.1 L1027.3,740.5 L1022.8,742.7 L1019.4,747.2 L1011.6,747.7 L1004.9,744.4 L998.1,741.6 L990.3,741.6 L984.1,742.7 L977.9,744.9 L971.2,748.3 L964.5,753.9 L960,760.6 L959.5,757.7 L956.6,762.1 L947.8,767.6 L939.1,773.7 L931.1,778.1 L926.7,781.7 L922.3,784.6 L918.7,786.8 L913.6,789.4 L908.5,792.6 L911.4,798.5 L907,802.8 L904.1,805.8 L907,810.1 L909.9,817.4 L911.4,824.7 L912.8,832 L915.8,837.8 L917.9,842.2 L912.8,845.1 L905.6,842.2 L898.3,840.7 L891,837.8 L883.7,834.2 L875.7,830.5 L871.3,820.3 L867.7,811.6 L866.2,799.9 L861.9,794.1 L856,786.8 L850.2,778.1 L844.4,766.4 L840,756.2 L830.5,748 L822.9,742.6 L807.7,742 L800.1,743.5 L797,751.1 L794,760.2 L787.9,763.3 L780.2,758.7 L771.1,752.6 L762,745 L757.4,737.4 L755.9,726.7 L749.8,717.6 L740.6,709.9 L731.5,700.8 L723.8,693.2 L717.7,685.5 L717.7,690.1 L685.1,690.1 L685.1,700.8 L666.8,700.8 L623.8,700.9 L544.9,669.5 L546.5,664.7 L496.3,668.8 L493.2,656.9 L486.9,645.9 L480.6,639.6 L472.8,636.5 L466.9,630.3 L459,627.2 L451.2,622.5 L443.3,619.3 L435.5,617.8 L427.6,618.5 L422.9,615.4 L422.1,608.3 L420.6,598.9 L416.6,595 L411.9,589.5 L407.2,583.2 L402.5,575.4 L397.8,569.1 L394.7,562.8 L396.2,554.2 L390,550.2 L385.2,544 L383.7,536.1 L382.1,520.4 L379,525.1 L373.5,523.6 L372.7,517.3 L368,511 L361.7,504.7 L356.7,495.3 L355.1,482.8 L350.4,471.8 L343.2,460.8 L344.1,451.4 L348.8,440.4 L350.4,429.4 L345.7,420 L343.9,411.6 L341.2,396.2 L345.6,375.7 L349.1,351.8 L351.5,327.8 L352.5,308.6 L353,305.2 L351.4,298.5 L355.3,295.1 L350.2,291.8 L357,287.8 L349.1,285 L346.9,280.6 L344.6,273.8 L341.8,267.1 L337.3,263.7 L336.2,257 L335.7,250.8 L339.6,250.8 L346.3,253.6 L353,255.9 L362,257 L369.9,257.6 L374.3,258.7 L377.7,252.5 L378.8,248 L377.7,242.4 L376,237.9Z"/>
<path d="M1401.7,457.8 L1410.2,452.4 L1416.9,448.8 L1425.9,445.2 L1433,442.5 L1438.4,441.6 L1443.8,441.6 L1449.2,441.2 L1451,443.9"/>
<path d="M498.5,236.2 L498.5,307.3 L501.2,314.1 L509.7,322.7 L504.6,334.7 L499.5,344.9 L494.4,355.2 L500.5,362 L498.5,372.3 L498.5,420.1"/>
<path d="M352.5,307.3 L361,306.6 L371.3,310.7 L376.4,322.7 L386.7,326.1 L398.6,322.7 L410.6,323.7 L422.6,321 L436.2,317.6 L456.8,314.8 L473.8,314.1 L501.2,314.1"/>
<path d="M519.3,236.2 L519.3,261.2 L525.1,269.7 L526.8,276.5 L537.1,283.4 L545.6,295.3 L555.2,297.1 L554.2,310.7 L550.8,324.4 L555.9,327.8 L562.7,322.7 L569.6,331.2 L573,341.5 L581.5,348.3 L585,355.9 L593.5,353.5 L603.8,351.8 L615.7,351.8 L620.9,346.6 L624.3,351.8"/>
<path d="M346.7,420.1 L624.3,420.1"/>
<path d="M624.3,341.5 L624.3,446.8"/>
<path d="M624.3,341.5 L771.8,341.5"/>
<path d="M771.8,235.5 L771.8,446.8"/>
<path d="M624.3,446.8 L814.5,446.8 L814.5,472.1 L955.7,472.1"/>
<path d="M771.8,315.9 L928.4,315.9"/>
<path d="M771.8,393.5 L887.4,393.5 L895.9,398.9 L904.4,397.9 L914.7,397.9 L925,401.3 L931.8,404.7"/>
<path d="M915.7,235.5 L917.1,249.2 L921.5,262.9 L923.2,276.5 L925,293.6 L928.4,307.3 L929.4,315.9 L923.2,324.4 L930.1,331.2 L932.8,332.9 L932.8,380.8 L928.4,382.5 L930.1,392.8 L928.4,399.6 L931.8,404.7 L936.9,420.1 L942.1,433.8 L944.4,450.9 L948.9,461.2 L954,471.4 L962.6,476.5 L960.9,485.1 L966,490.2 L971.1,495.3 L971,493.7 L971,565 L974.1,608.3 L974.1,639.6 L982,641.2"/>
<path d="M932.8,380.8 L1041,380.8"/>
<path d="M947.2,456.7 L1037.6,456.7"/>
<path d="M436.1,420 L436.1,498.4 L551.2,601.4"/>
<path d="M562.2,420 L562.2,564.3 L560.6,573.7 L555.9,575.3 L549,576.9 L549.6,589.4 L551.2,601.4 L555.3,611.4 L559.1,622.4 L555.9,627.1 L551.2,636.5 L546.5,645.9 L548.1,655.3 L546.5,664.7"/>
<path d="M562.2,552 L971,552"/>
<path d="M665.9,446 L665.9,699.9 L666.8,700.9"/>
<path d="M814.3,446 L814.3,552"/>
<path d="M814.3,472.4 L955.3,472.4"/>
<path d="M793.6,552 L793.6,682.9 L716.1,682.9"/>
<path d="M793.6,565.3 L857.3,565.3 L857.3,616.1 L863.6,620.8 L873,620.8 L877.7,625.5 L888.7,627.1 L900,633.4 L889.4,628.7 L898.8,633.4 L911.4,634.9 L923.9,633.4 L934.9,638.1 L945.9,633.4 L958.4,631.8 L967.9,636.5 L974.1,639.6"/>
<path d="M982,641.2 L982,656.9 L1041.6,656.9"/>
<path d="M983.1,656.6 L983.1,677.9 L985.8,690 L989.2,696.7 L993.1,704.6 L992.5,712.4 L989.7,719.2 L988.6,727 L989.7,732.6 L986.9,738.2 L984.1,742.7"/>
<path d="M971,565 L1065.1,565 L1060.4,575.3 L1065.1,578.5 L1072,577.8"/>
<path d="M1023.9,295.3 L1018.8,300.5 L1018.8,314.1 L1008.5,321 L1006.8,331.2 L1010.3,344.9 L1020.5,355.2 L1034.2,365.4 L1041,375.7 L1044.4,385.9 L1043.8,392.8 L1051.3,401.3 L1056.4,406.5 L1063.2,416.7 L1061.5,427 L1051.3,433.8 L1044.4,440.6 L1046.2,450.9 L1037.6,461.2 L1035.9,474.8 L1044.4,485.1 L1051.3,495.3 L1052.6,498.4 L1060.4,503.2 L1065.1,507.9 L1058.9,517.3 L1065.1,525.1 L1074.5,533 L1079.2,540.8 L1080.8,548.6 L1085.5,551.8 L1079.2,562.8 L1076.1,570.6 L1072,577.8 L1071.4,586.3 L1065.1,595.7 L1063.6,605.1 L1057.3,611.4 L1051,624 L1044.7,636.5 L1041.6,645.9 L1044.7,658.5 L1047.9,671 L1043.2,683.6 L1038.5,693 L1038.5,690 L1035.1,696.7 L1032.9,703.5 L1034,710.2 L1073.3,710.2 L1072.1,715.8 L1074.4,722.5 L1076.6,728.1 L1078.9,731.5"/>
<path d="M1056.4,406.5 L1114.5,406.5"/>
<path d="M1119.7,425.3 L1119.7,488.5 L1120,493.7 L1118.5,501.6 L1113.8,514.1 L1109.1,523.5 L1107.5,529.8"/>
<path d="M1085.5,548.6 L1093.4,547.1 L1099.6,548.6 L1105.9,539.2 L1107.5,529.8 L1113.8,528.3 L1121.6,526.7 L1129.5,529.8 L1137.3,523.5 L1145.1,520.4 L1151.4,525.1 L1157.7,518.8 L1164,511 L1170.2,506.3 L1177.5,503.2 L1177.3,495.3 L1183.5,495.3 L1189.8,501.6 L1197.7,504.7 L1207.1,507.9 L1218,506.3 L1224.3,512.6 L1233.7,503.2 L1238.4,493.7 L1247.9,487.5 L1257.3,479.6 L1262,470.2 L1263.5,457.7 L1267.6,451.4"/>
<path d="M1138.5,426.3 L1177.8,427 L1209.2,425.6"/>
<path d="M1177.8,427 L1177.3,495.3"/>
<path d="M1267.7,420.1 L1267.6,479.9 L1368.7,479.9"/>
<path d="M1283.8,413.3 L1283.8,419.1 L1377.4,419.4 L1382.8,425.6 L1385.5,431 L1386.9,432.6"/>
<path d="M1386.9,432.6 L1409.3,446.1"/>
<path d="M1416.4,340.1 L1419.1,347.6 L1417.8,358.3 L1419.1,369.1 L1416.4,378.5 L1420.4,385.2 L1421,401.4 L1418.7,404 L1416,412.9 L1414.2,421.9 L1413.8,432.7 L1413.3,439.8 L1410.2,443.9"/>
<path d="M1454.9,340.1 L1448.7,355.7 L1444.7,363.7 L1440.6,374.5 L1437.9,385.2 L1435.2,400.6"/>
<path d="M1466.2,331.4 L1469.7,385.2 L1472.9,394.7"/>
<path d="M1420.9,400.8 L1461.7,401.7 L1466.2,398.6 L1470.7,396.8 L1474.3,395"/>
<path d="M1416.9,418.8 L1460.9,418.8 L1461.7,421.9 L1462.6,426.4 L1464.4,429.1 L1466.2,430.9"/>
<path d="M1451.9,418.8 L1451.9,435.8"/>
<path d="M1076.1,564.3 L1110.6,564.3 L1110.6,561.2 L1243.2,562.8 L1243.2,563.4 L1365.5,563.4"/>
<path d="M1065.1,604.5 L1207.1,605.1 L1207.1,609.8"/>
<path d="M1107.5,605.1 L1104.3,639.6 L1102.2,671 L1102.9,665.7 L1100.2,690 L1101.1,706.8 L1102.4,724.8"/>
<path d="M1162.5,605.1 L1167.8,633.4 L1172.6,658.5 L1174.1,674.2 L1172.9,665.7 L1174.4,676.4 L1169.8,690.1 L1171.3,705.4 L1174.4,716 L1231.7,720.6 L1232.9,727.3 L1236.9,725.2 L1236.9,717 L1247.6,714.5"/>
<path d="M1124.8,723.6 L1122.6,722.5 L1120.3,715.8 L1118.1,709.6 L1173.1,709.6"/>
<path d="M1243.2,564.3 L1235.3,573.7 L1222.8,580 L1213.3,586.3 L1200.8,591 L1191.4,595.7 L1188.2,603.6"/>
<path d="M1207.1,609.8 L1225.9,599.5 L1254.1,600.4 L1260.4,603.6 L1262,609.8 L1285.5,609.8 L1307.5,633.4 L1313.7,634.9"/>
<path d="M1207.1,609.8 L1213.3,617.7 L1221.2,627.1 L1227.5,636.5 L1235.3,645.9 L1243.2,655.3 L1247.9,667.9 L1252.6,674.2 L1257.3,680.4"/>
<path d="M1224.3,512.6 L1225.9,523.5 L1230.6,531.4 L1236.9,539.2 L1225.9,545.5 L1216.5,553.4 L1210.2,559.6 L1200.8,562.8"/>
<path d="M1063.6,299.6 L1065.5,305.5 L1076.3,308.4 L1088.1,312.3 L1097.9,314.3 L1107.7,317.2 L1112.6,323.1 L1114.6,331 L1117.6,335.9 L1119.5,339.8"/>
<path d="M1236.9,539.2 L1243.2,545.5 L1252.6,543.9 L1262,540.8 L1271.4,537.7 L1276.1,526.7 L1283.9,517.3 L1283.4,514.9 L1285.6,509.8 L1289,514.3 L1292.9,514.9 L1295.1,509.3 L1297.9,503.6 L1302.4,505.3 L1304.7,500.3 L1310.3,495.8 L1312.5,491.3 L1312.5,486.8 L1314.8,487.9 L1319.3,491.3 L1324.3,496.4"/>
<path d="M1288.4,479.9 L1288.4,494.1 L1294.6,489.6 L1301.3,485.7 L1305.2,483.2 L1309.2,484.4 L1313.6,482.1 L1318.1,481.2 L1323.2,481.8 L1325.4,485.7 L1326,492.4 L1324.3,496.4"/>
<path d="M1326,489.6 L1329.3,491.3 L1332.7,494.1 L1336.1,496.9 L1341.1,499.2 L1344.5,502 L1342.8,505.3 L1338.9,508.1 L1335,510.9 L1333.8,514.9 L1336.1,517.7 L1339.4,514.3 L1342.8,514.9 L1347.3,518.2 L1352.9,522.7 L1357.4,526.6"/>
<path d="M1367.5,481.2 L1363,484 L1358.5,486.8 L1354,490.2 L1349.5,492.4 L1350.7,498 L1350.1,503.6 L1351.8,509.3 L1349.5,513.2 L1352.9,514.9 L1355.1,519.3 L1357.4,526.1 L1357.4,532.8 L1356.3,537.3 L1357.4,542.9 L1356.3,547.4 L1358.5,550.7 L1363,550.7"/>
<path d="M1342.8,525 L1347.3,529.4 L1351.8,533.9 L1356.3,537.3"/>
<path d="M1345,537.3 L1349.5,541.8 L1354,546.3"/>
<path d="M1341.7,545.1 L1347.3,548.5 L1352.9,553 L1358.5,553.5"/>
<path d="M1368.6,481.2 L1365.2,484.6 L1360.7,489.1 L1360.2,494.7 L1358.5,499.2 L1360.7,503.6 L1360.2,508.1 L1362.4,510.4 L1360.7,513.7 L1365.2,516 L1367.5,519.3 L1368.6,523.8 L1365.2,527.2 L1364.1,532.8 L1363,539.5 L1361.9,546.3 L1363.5,549.6"/>
<path d="M1368.6,523.8 L1377.6,526.6"/>
<path d="M1368.6,479.9 L1368.6,513.2 L1380.9,513.2"/>
<path d="M1369.7,479 L1371.4,485.7 L1374.2,491.3 L1377.6,494.7 L1382.1,496.9 L1384.3,500.8"/>
<path d="M1385.6,440 L1381.6,446.3 L1379.3,454.1 L1381.6,460.4 L1386.4,465.1 L1390.3,468.3 L1385.6,471.4 L1380.1,475.3 L1375.4,476.9 L1369.9,478.5 L1370.7,484 L1373.8,488.7 L1376.9,493.4 L1381.6,495.7 L1386,499.7"/>
<path d="M1456.4,437.2 L1451.9,435.8 L1447.4,437.6 L1440.2,438 L1433,438.9 L1426.8,438.9 L1421.4,441.6 L1416,442.5 L1410.2,443.9 L1405.2,448.8 L1401.7,457.8"/>
<path d="M1365.6,574.1 L1362,572.3 L1354.8,575.9 L1347.6,579.5 L1345.8,568.7"/>
<path d="M1349.4,581.3 L1356.6,578.6 L1363.8,578.6 L1365.6,583 L1362,588.4 L1359.3,584.8"/>
<path d="M1363.8,593.8 L1358.4,592 L1353,590.2 L1347.6,593.8 L1340.4,592"/>
<path d="M1351.2,592 L1349.4,599.2 L1347.6,604.6 L1340.4,601 L1338.7,602.8 L1345.8,608.2 L1351.2,608.2 L1354.8,602.8"/>
<path d="M1058.7,731.5 L1062,727 L1065.4,725.9 L1069.9,729.2 L1073.3,731.5 L1071,734.9 L1065.4,736 L1060.9,734.9 L1058.7,731.5"/>
<path d="M963.8,751.9 L960.9,747.5 L962.4,743.1 L965.3,744.6 L968.2,740.9 L969.7,744.6"/>
</g>
<path d="M376.6,235.1 L381.1,236.8 L385.6,242.4 L386.7,249.2 L388.4,255.9 L391.7,260.9 L388.9,267.1 L388.9,272.7 L389.5,278.3 L386.7,283.4 L381.1,286.7 L375.5,289 L371,285 L368.7,278.3 L370.4,272.7 L374.3,269.3 L377.1,264.9 L376,260.4 L373.2,258.7 L375.5,255.9 L377.7,252.5 L378.8,248 L377.7,242.4 L376,237.9Z" fill="#000"/>
<path d="M368.2,244.1 L372.1,241.9 L376.6,243 L378.3,246.9 L377.1,251.4 L373.2,252.5 L369.3,249.7Z" fill="#000"/>
<path d="M380,245.2 L382.8,245.6 L381.6,247.5 L379.4,247.8Z" fill="#0000CD"/>
<path d="M376,273.8 L378.3,274.4 L380,276.1 L377.7,276.6Z" fill="#0000CD"/>
<path d="M369.9,234 L372.1,234 L372.1,236.6 L369.9,236.6Z" fill="#0000CD"/>
<path d="M1470.3,435.4 L1473.4,433.6 L1479.7,434 L1480.6,437.2 L1476.1,438.9 L1470.7,439.8Z" fill="#000"/>
<path d="M1483.3,437.2 L1487.8,435.4 L1491.8,437.6 L1491.3,441.2 L1486,441.6 L1483.3,439.4Z" fill="#000"/>
<path d="M1397.6,457.8 L1401.7,454.6 L1407.9,454.2 L1407.5,461.4 L1403.5,463.2 L1398.5,461.8Z" fill="#000"/>
<path d="M1159.2,335.9 L1163.7,333.9 L1167,337.8 L1166.6,346.7 L1162.7,349 L1159.2,345.7Z" fill="#000"/>
<path d="M349.1,285 L357,287.3 L357.5,289 L350.8,291.8 L349.9,288.4Z" fill="#000"/>
<path d="M382.1,520.1 L388.4,519.6 L392.3,523.6 L390,529.8 L392.3,535.3 L395.4,537.7 L393.9,541.1 L388.4,540 L384.5,536.9 L382.9,528.3Z" fill="#000"/>
<path d="M925.8,770.7 L929.2,768.5 L937,767.4 L938.7,770.7 L937,775.2 L932.5,776.4 L928,779.2 L925.2,776.9Z" fill="#000"/>
<path d="M960.6,742.1 L967.3,739.3 L970.7,741.6 L970.1,746.1 L966.7,750.6 L962.8,751.5 L960.6,747.2Z" fill="#000"/>
<path d="M963.9,743.8 L966.2,742.7 L966.7,745.5 L964.8,746.1Z" fill="#8B1A1A"/>
<path d="M1218.4,788.6 L1224,786.4 L1229.6,790.8 L1229.2,797.6 L1224,800.3 L1219.6,796.4Z" fill="#000"/>
<path d="M1229.2,815.5 L1235.2,814.4 L1236.8,821.1 L1233,824.5 L1229.6,822.2Z" fill="#000"/>
<path d="M1252.5,858.1 L1258.8,856.9 L1261,862.5 L1256.5,865.9 L1252,863.7Z" fill="#000"/>
<g font-weight="bold" font-size="33.6px" text-anchor="middle"><text x="946" y="57">Spodoptera littoralis: Number of generations w/ climate stress</text><text x="946" y="97">exclusions 04/02/2026</text></g>
<g font-size="27.1px" text-anchor="middle"><text x="947" y="148">Maps and modeling 04/02/2026 by Oregon State University IPPC USPEST.ORG and</text><text x="947" y="181">USDA-APHIS-PPQ; climate data from OSU PRISM Climate Group</text></g>
<g font-weight="bold" font-size="26px"><text x="1596" y="491">No. of</text><text x="1596" y="520">generations</text></g>
<rect x="1596" y="533" width="26" height="25.3" fill="#4D4D4D"/><rect x="1596" y="558.2" width="26" height="25.9" fill="#0028D7"/><rect x="1596" y="584" width="26" height="25.5" fill="#A82513"/><rect x="1596" y="609.5" width="26" height="25.5" fill="#DBBF00"/>
<g class="lg"><text x="1633.3" y="553">excl.-severe</text><text x="1633.3" y="578.5">0 gens.</text><text x="1633.3" y="604">1 gens.</text><text x="1633.3" y="629.5">2 gens.</text></g>
</svg></body></html>
